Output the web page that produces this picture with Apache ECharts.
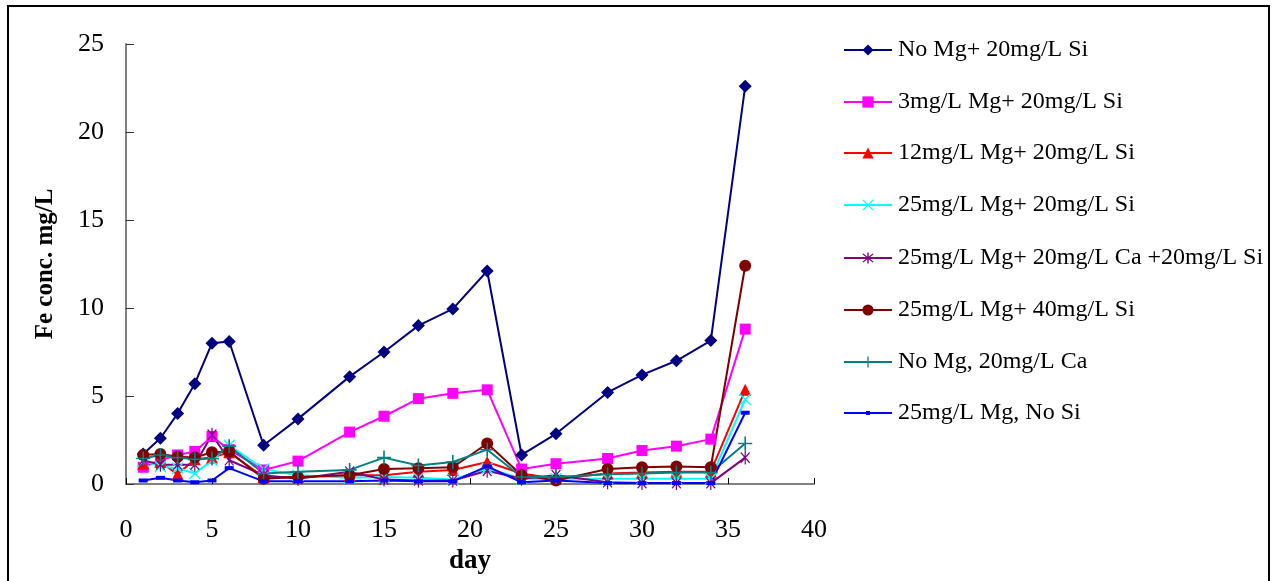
<!DOCTYPE html>
<html>
<head>
<meta charset="utf-8">
<script src="https://cdn.jsdelivr.net/npm/echarts@6/dist/echarts.min.js"></script>
<style>
html,body{margin:0;padding:0;background:#fff;}
#chart{width:1275px;height:581px;}
</style>
</head>
<body>
<div id="chart"></div>
<script>
const days = [1,2,3,4,5,6,8,10,13,15,17,19,21,23,25,28,30,32,34,36];
const seriesNames = [
  'No Mg+ 20mg/L Si',
  '3mg/L Mg+ 20mg/L Si',
  '12mg/L Mg+ 20mg/L Si',
  '25mg/L Mg+ 20mg/L Si',
  '25mg/L Mg+ 20mg/L Ca +20mg/L Si',
  '25mg/L Mg+ 40mg/L Si',
  'No Mg, 20mg/L Ca',
  '25mg/L Mg, No Si'
];
const noMg20Si      = [1.7, 2.6, 4.0, 5.7, 8.0, 8.1, 2.2, 3.7, 6.1, 7.5, 9.0, 9.95, 12.1, 1.65, 2.85, 5.2, 6.2, 7.0, 8.15, 22.6];
const mg3Si20       = [0.95, 1.35, 1.65, 1.85, 2.7, 1.95, 0.8, 1.3, 2.95, 3.85, 4.85, 5.15, 5.35, 0.85, 1.15, 1.45, 1.9, 2.15, 2.55, 8.8];
const mg12Si20      = [1.15, 1.25, 0.55, 1.4, 1.5, 1.8, 0.4, 0.4, 0.5, 0.5, 0.7, 0.8, 1.25, 0.6, 0.3, 0.6, 0.65, 0.7, 0.7, 5.35];
const mg25Si20      = [1.3, 1.0, 0.9, 0.6, 1.35, 2.2, 0.85, 0.5, 0.35, 0.4, 0.35, 0.25, 0.9, 0.3, 0.3, 0.3, 0.3, 0.3, 0.3, 4.8];
const mg25Ca20Si20  = [1.35, 1.1, 1.1, 1.1, 2.8, 1.35, 0.5, 0.3, 0.7, 0.25, 0.2, 0.2, 0.75, 0.3, 0.5, 0.1, 0.05, 0.05, 0.05, 1.5];
const mg25Si40      = [1.65, 1.7, 1.55, 1.5, 1.8, 1.85, 0.3, 0.4, 0.5, 0.85, 0.9, 0.95, 2.3, 0.5, 0.2, 0.85, 0.95, 1.0, 0.95, 12.4];
const noMgCa20      = [1.45, 1.65, 1.5, 1.4, 1.45, 2.15, 0.6, 0.7, 0.8, 1.5, 1.05, 1.25, 1.95, 0.4, 0.4, 0.55, 0.6, 0.65, 0.65, 2.3];
const mg25NoSi      = [0.2, 0.35, 0.2, 0.1, 0.2, 0.9, 0.15, 0.15, 0.15, 0.2, 0.15, 0.15, 1.0, 0.1, 0.2, 0.05, 0.05, 0.05, 0.05, 4.05];
const allValues = [noMg20Si, mg3Si20, mg12Si20, mg25Si20, mg25Ca20Si20, mg25Si40, noMgCa20, mg25NoSi];

const colors = ['#000080','#FF00FF','#FF0000','#00FFFF','#800080','#800000','#008080','#0000FF'];
const X_PATH = 'path://M-6,-5L-5,-6L6,5L5,6Z M5,-6L6,-5L-5,6L-6,5Z';
const AST_PATH = 'path://M-6,-5L-5,-6L6,5L5,6Z M5,-6L6,-5L-5,6L-6,5Z M-0.75,-7.5L0.75,-7.5L0.75,7.5L-0.75,7.5Z';
const PLUS_PATH = 'path://M-0.8,-7L0.8,-7L0.8,-0.8L7,-0.8L7,0.8L0.8,0.8L0.8,7L-0.8,7L-0.8,0.8L-7,0.8L-7,-0.8L-0.8,-0.8Z';
const symbols = ['diamond','rect','triangle',X_PATH,AST_PATH,'circle',PLUS_PATH,'rect'];
const symbolSizes = [13, 11, 12, 12, [12,14], 12, 14, [9,4]];

const FONT = '"Liberation Serif","Times New Roman",serif';

const series = seriesNames.map((name, i) => ({
  name: name,
  type: 'line',
  data: days.map((d, j) => [d, allValues[i][j]]),
  symbol: symbols[i],
  symbolSize: symbolSizes[i],
  symbolKeepAspect: true,
  showAllSymbol: true,
  lineStyle: {color: colors[i], width: 2},
  itemStyle: {color: colors[i], borderWidth: 0},
  emphasis: {disabled: true},
  animation: false
}));

const legendCenters = [50, 102, 153, 205, 258, 310, 362, 413];
const legends = seriesNames.map((name, i) => ({
  data: [name],
  left: 843,
  top: legendCenters[i] - 12,
  padding: 0,
  itemWidth: 48,
  itemHeight: i === 7 ? 5 : 14,
  itemGap: 0,
  textStyle: {fontFamily: FONT, fontSize: 24, color: '#000', padding: [0,0,0,1]},
  selectedMode: false
}));

const chart = echarts.init(document.getElementById('chart'));
chart.setOption({
  backgroundColor: '#ffffff',
  animation: false,
  color: colors,
  grid: {left: 126, top: 44, width: 688, height: 440, containLabel: false},
  xAxis: {
    type: 'value', min: 0, max: 40, interval: 5,
    name: 'day', nameLocation: 'middle', nameGap: 62,
    nameTextStyle: {fontFamily: FONT, fontSize: 27, fontWeight: 'bold', color: '#000'},
    axisLine: {show: true, lineStyle: {color: '#808080', width: 2}},
    axisTick: {show: true, inside: true, length: 6, lineStyle: {color: '#000', width: 1}},
    axisLabel: {fontFamily: FONT, fontSize: 26, color: '#000', margin: 33},
    splitLine: {show: false}
  },
  yAxis: {
    type: 'value', min: 0, max: 25, interval: 5,
    name: 'Fe conc. mg/L', nameLocation: 'middle', nameGap: 68, nameRotate: 90,
    nameTextStyle: {fontFamily: FONT, fontSize: 25, fontWeight: 'bold', color: '#000'},
    axisLine: {show: true, lineStyle: {color: '#808080', width: 2}},
    axisTick: {show: true, inside: true, length: 8, lineStyle: {color: '#333', width: 1}},
    axisLabel: {fontFamily: FONT, fontSize: 26, color: '#000', margin: 22},
    splitLine: {show: false}
  },
  legend: legends,
  graphic: [{
    type: 'rect', silent: true, z: -1,
    shape: {x: 8, y: 6, width: 1261, height: 600},
    style: {fill: 'none', stroke: '#000', lineWidth: 2}
  }],
  series: series
});
</script>
</body>
</html>
